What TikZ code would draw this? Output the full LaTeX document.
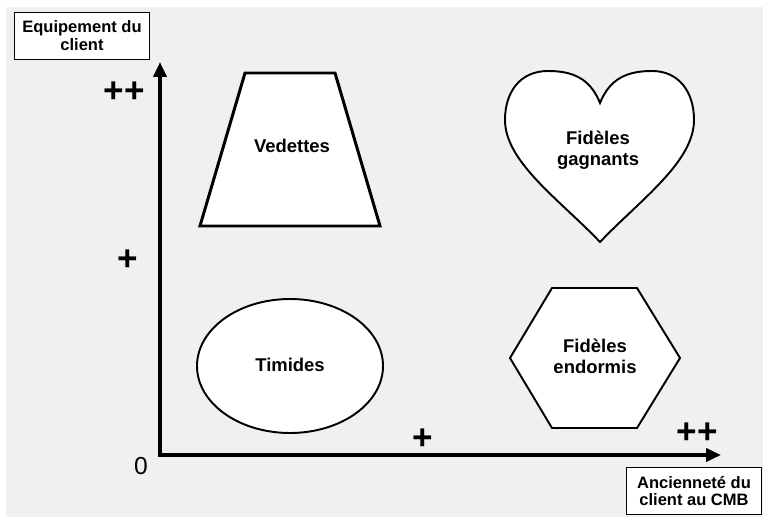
\documentclass[tikz,border=0pt]{standalone}
\usepackage{fontspec}
\setmainfont{Liberation Sans}
\usetikzlibrary{arrows.meta,positioning,shapes.geometric}
\definecolor{fond}{HTML}{F0F0F0}

\begin{document}
\begin{tikzpicture}
    [x=0.02cm, y=-0.02cm,
     ax/.style={line width=2.6pt, line join=miter,
                {Triangle[length=3mm,width=2.6mm]}-{Triangle[length=3mm,width=2.6mm]}},
     forme/.style={draw, fill=white, line width=1.1pt},
     epais/.style={forme, line width=1.7pt},
     nom/.style={font=\bfseries\fontsize{10.5}{12}\selectfont, align=center},
     titre/.style={draw, fill=white, line width=0.9pt, minimum width=2.7cm,
                   minimum height=0.94cm, align=center, inner sep=1pt,
                   font=\bfseries\fontsize{9.4}{10.2}\selectfont},
     cran/.style={font=\bfseries\fontsize{20}{20}\selectfont},
     zero/.style={font=\fontsize{14}{14}\selectfont}]
    \useasboundingbox (0,0) rectangle (763,517);
    \fill[fond] (6,7) rectangle (763,517);

    % axes
    \coordinate (o) at (160,455);
    \coordinate (yhaut) at (160,62);
    \coordinate (xfin) at (721,455);
    \draw[ax] (yhaut) -- (o) -- (xfin);

    \node[titre] (equip) at (82,36) {Equipement du\\client};
    \node[titre] (ancien) at (694,491) {Ancienneté du\\client au CMB};

    \node[cran] (ypp) at (124,92) {++};
    \node[cran] (yp) at (128,260) {+};
    \node[zero] (zero) at (141,466) {0};
    \node[cran] (xp) at (423,439) {+};
    \node[cran] (xpp) at (697,433) {++};

    % segments
    \draw[epais] (245,73) -- (335,73) -- (380,226) -- (200,226) -- cycle;
    \node[nom] (vedettes) at (292,146) {Vedettes};

    \draw[forme] (600,103) .. controls (590,78) and (572,71) .. (548,71)
        .. controls (520,71) and (505,92) .. (505,120)
        .. controls (505,162) and (560,200) .. (600,242)
        .. controls (640,200) and (694,162) .. (694,120)
        .. controls (694,92) and (679,71) .. (652,71)
        .. controls (628,71) and (610,78) .. (600,103) -- cycle;
    \node[nom] (gagnants) at (598,150) {Fidèles\\gagnants};

    \draw[forme] (290,366) ellipse (93 and 67);
    \node[nom] (timides) at (290,365) {Timides};

    \draw[forme] (510,358) -- (552,288) -- (637,288) -- (680,358)
        -- (637,428) -- (552,428) -- cycle;
    \node[nom] (endormis) at (595,356) {Fidèles\\endormis};
\end{tikzpicture}
\end{document}
